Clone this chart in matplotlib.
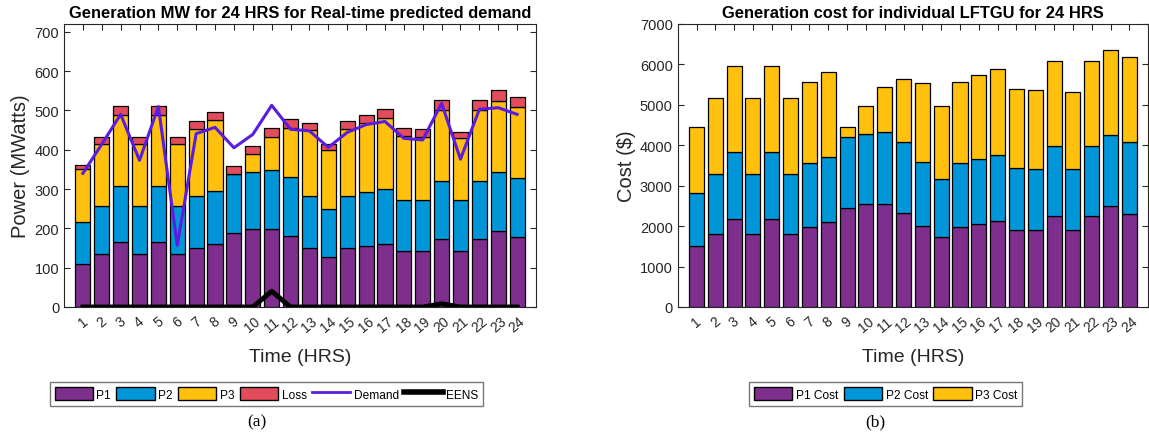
import numpy as np
import matplotlib.pyplot as plt
from matplotlib.lines import Line2D
from matplotlib.patches import Patch

plt.rcParams['font.family'] = ['Liberation Sans', 'DejaVu Sans']

hours = np.arange(1, 25)

# generation per unit (MW)
p1 = [110, 136, 166, 136, 166, 136, 150, 160, 189, 198, 198, 180,
      150, 128, 150, 156, 161, 143, 143, 173, 143, 173, 193, 179]
p2 = [105, 122, 142, 122, 142, 122, 132, 136, 150, 146, 151, 150,
      133, 120, 132, 137, 140, 128, 128, 147, 128, 147, 150, 149]
p3 = [135, 156, 180, 156, 180, 156, 170, 179, 0, 45, 84, 125,
      166, 152, 171, 175, 180, 165, 162, 181, 158, 181, 181, 181]
loss = [12, 18, 23, 18, 23, 18, 20, 22, 19, 21, 23, 23,
        20, 15, 19, 20, 23, 19, 20, 25, 16, 25, 28, 26]
demand = [340, 414, 490, 373, 510, 157, 441, 457, 405, 439, 513, 452,
          448, 406, 444, 464, 472, 429, 425, 518, 376, 503, 507, 490]
eens = [0, 0, 0, 0, 0, 0, 0, 0, 0, 0, 40, 0,
        0, 0, 0, 0, 0, 0, 0, 8, 0, 0, 0, 0]

# generation cost per unit ($)
c1 = [1512, 1810, 2165, 1810, 2165, 1810, 1983, 2091, 2438, 2554, 2554, 2331,
      1992, 1736, 1983, 2058, 2116, 1909, 1893, 2248, 1893, 2248, 2488, 2306]
c2 = [1298, 1471, 1678, 1471, 1678, 1471, 1571, 1628, 1760, 1719, 1768, 1760,
      1587, 1429, 1571, 1611, 1653, 1521, 1528, 1735, 1528, 1735, 1760, 1768]
c3 = [1653, 1876, 2107, 1876, 2107, 1876, 2016, 2099, 248, 702, 1116, 1537,
      1950, 1818, 2016, 2067, 2107, 1958, 1951, 2108, 1885, 2108, 2116, 2116]

purple = '#7E2F8E'
blue = '#0096D8'
yellow = '#FFC10E'
red = '#E34C5B'
violet = '#5A1CE0'
axcol = '#262626'


def stacked(ax, series, colors):
    bottom = np.zeros(len(hours))
    for vals, col in zip(series, colors):
        vals = np.asarray(vals, dtype=float)
        ax.bar(hours, vals, 0.8, bottom=bottom, color=col,
               edgecolor='black', linewidth=0.9, zorder=2)
        bottom += vals


def style(ax, ymax, ylabel, ylabel_x):
    ax.set_xlim(0, 25)
    ax.set_ylim(0, ymax)
    ax.set_xticks(hours)
    ax.set_xticklabels([str(h) for h in hours], rotation=40,
                       ha='center', va='top', fontsize=10)
    ax.tick_params(direction='in', top=True, right=True, length=4,
                   width=0.8, colors=axcol, labelsize=10.5)
    ax.tick_params(axis='x', pad=5, labelsize=10)
    for s in ax.spines.values():
        s.set_color(axcol)
        s.set_linewidth(0.8)
    ax.set_xlabel('Time (HRS)', fontsize=14, color=axcol, labelpad=9.5)
    ax.set_ylabel(ylabel, fontsize=14.5, color=axcol)
    ax.yaxis.set_label_coords(ylabel_x, 0.5)


def legend(handles, x):
    fig.legend(handles=handles, loc='center', bbox_to_anchor=(x, 0.092),
               ncol=len(handles), fontsize=8.6, frameon=True, fancybox=False,
               edgecolor='#555555', handlelength=3.2, handleheight=1.3,
               handletextpad=0.3, columnspacing=0.45, borderpad=0.4,
               borderaxespad=0)


fig = plt.figure(figsize=(11.49, 4.35), dpi=100)

# (a) generation in MW
ax1 = fig.add_axes([0.0557, 0.292, 0.4108, 0.6506])
stacked(ax1, [p1, p2, p3, loss], [purple, blue, yellow, red])
ax1.plot(hours, demand, color=violet, lw=2.2, zorder=3)
ax1.plot(hours, eens, color='black', lw=3.5, zorder=3)
style(ax1, 720, 'Power (MWatts)', -0.072)
ax1.set_yticks(range(0, 701, 100))
ax1.set_title('Generation MW for 24 HRS for Real-time predicted demand',
              fontsize=11.9, fontweight='bold', pad=5)

legend([Patch(facecolor=purple, edgecolor='black', label='P1'),
        Patch(facecolor=blue, edgecolor='black', label='P2'),
        Patch(facecolor=yellow, edgecolor='black', label='P3'),
        Patch(facecolor=red, edgecolor='black', label='Loss'),
        Line2D([], [], color=violet, lw=2, label='Demand'),
        Line2D([], [], color='black', lw=4, label='EENS')], 0.232)

# (b) generation cost
ax2 = fig.add_axes([0.5898, 0.292, 0.4095, 0.6506])
stacked(ax2, [c1, c2, c3], [purple, blue, yellow])
style(ax2, 7000, 'Cost ($)', -0.088)
ax2.set_yticks(range(0, 7001, 1000))
ax2.set_title('Generation cost for individual LFTGU for 24 HRS',
              fontsize=11.9, fontweight='bold', pad=5)

legend([Patch(facecolor=purple, edgecolor='black', label='P1 Cost'),
        Patch(facecolor=blue, edgecolor='black', label='P2 Cost'),
        Patch(facecolor=yellow, edgecolor='black', label='P3 Cost')], 0.771)

fig.text(257 / 1149, 0.028, '(a)', ha='center', va='center',
         fontsize=12.5, family='Liberation Serif')
fig.text(875 / 1149, 0.028, '(b)', ha='center', va='center',
         fontsize=12.5, family='Liberation Serif')

fig.savefig('out.png', dpi=100)
